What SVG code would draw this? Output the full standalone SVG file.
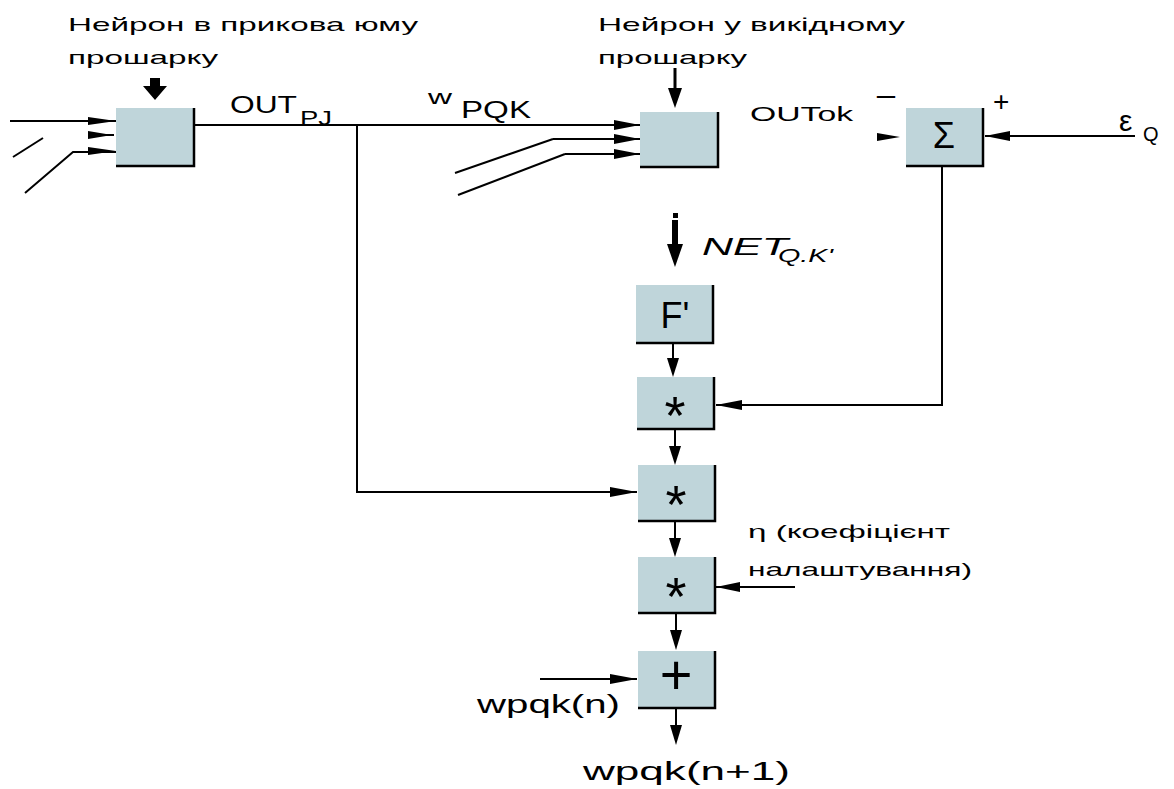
<svg xmlns="http://www.w3.org/2000/svg" width="1174" height="789" viewBox="0 0 1174 789">
<style>
.box{fill:#bfd5da;}
.edge{fill:none;stroke:#000;stroke-width:2.5;}
.ln{fill:none;stroke:#000;stroke-width:2;}
.t{font-family:"Liberation Sans",Arial,sans-serif;fill:#000;}
.lbl{font-size:19px;}
.sym{text-anchor:middle;}
</style>
<rect width="1174" height="789" fill="#fff"/>

<g id="connectors">
<line class="ln" x1="10" y1="121" x2="116" y2="121"/>
<line class="ln" x1="88" y1="135" x2="114" y2="135"/>
<polyline class="ln" points="13,157 43,138"/>
<polyline class="ln" points="25,193 73,152 116,152"/>
<path d="M88,117 L116,121 L88,125 z M88,131 L112,135 L88,139 z M88,147 L116,151 L88,155 z" fill="#000"/>
<path d="M150,78 h10 v8 h7 l-12,14 l-12,-14 h7 z" fill="#000"/>

<line class="ln" x1="194" y1="125" x2="640" y2="125"/>
<polyline class="ln" points="553,139 640,139"/>
<polyline class="ln" points="455,173 553,139"/>
<polyline class="ln" points="565,154 640,154"/>
<polyline class="ln" points="458,195 565,154"/>
<path d="M614,120 L640,125 L614,130 z M614,134 L640,139 L614,144 z M614,149 L640,154 L614,159 z" fill="#000"/>
<line x1="675" y1="68" x2="675" y2="92" stroke="#000" stroke-width="3"/>
<path d="M668,88 L682,88 L675,108 z" fill="#000"/>

<polyline class="ln" points="357,125 357,492 637,492"/>
<path d="M610,487 L637,492 L610,497 z" fill="#000"/>

<path d="M877,133 L900,137 L877,141 z" fill="#000"/>
<line class="ln" x1="985" y1="136" x2="1135" y2="136"/>
<path d="M985,136 L1010,131 L1010,141 z" fill="#000"/>

<polyline class="ln" points="942,166 942,405 716,405"/>
<path d="M716,405 L742,400 L742,410 z" fill="#000"/>

<rect x="673" y="213" width="5" height="5" fill="#000"/>
<line x1="675" y1="220" x2="675" y2="250" stroke="#000" stroke-width="6"/>
<path d="M667,244 L683,244 L675,267 z" fill="#000"/>

<line class="ln" x1="673" y1="343" x2="673" y2="362"/>
<path d="M667,358 L679,358 L673,377 z" fill="#000"/>
<line class="ln" x1="675" y1="429" x2="675" y2="450"/>
<path d="M669,446 L681,446 L675,465 z" fill="#000"/>
<line class="ln" x1="675" y1="521" x2="675" y2="542"/>
<path d="M669,538 L681,538 L675,557 z" fill="#000"/>
<line class="ln" x1="795" y1="587" x2="716" y2="587"/>
<path d="M716,587 L740,582 L740,592 z" fill="#000"/>
<line class="ln" x1="676" y1="613" x2="676" y2="633"/>
<path d="M670,630 L682,630 L676,650 z" fill="#000"/>
<line class="ln" x1="540" y1="679" x2="637" y2="679"/>
<path d="M610,674 L637,679 L610,684 z" fill="#000"/>
<line class="ln" x1="676" y1="708" x2="676" y2="728"/>
<path d="M670,725 L682,725 L676,745 z" fill="#000"/>
</g>

<g id="hidden-neuron">
<rect class="box" x="116" y="108" width="78" height="58"/>
<polyline class="edge" points="194,108 194,166 116,166"/>
</g>

<g id="output-neuron">
<rect class="box" x="640" y="112" width="78" height="55"/>
<polyline class="edge" points="718,112 718,167 640,167"/>
</g>

<g id="sum">
<rect class="box" x="906" y="108" width="77" height="58"/>
<polyline class="edge" points="983,108 983,166 906,166"/>
<text class="t sym" x="944" y="148" font-size="36">Σ</text>
</g>

<g id="fprime">
<rect class="box" x="636" y="285" width="77" height="58"/>
<polyline class="edge" points="713,285 713,343 636,343"/>
<text class="t sym" x="675" y="328" font-size="36">F'</text>
</g>

<g id="mul1">
<rect class="box" x="637" y="377" width="77" height="52"/>
<polyline class="edge" points="714,377 714,429 637,429"/>
<text class="t sym" x="675" y="434" font-size="54">*</text>
</g>

<g id="mul2">
<rect class="box" x="638" y="465" width="77" height="56"/>
<polyline class="edge" points="715,465 715,521 638,521"/>
<text class="t sym" x="676" y="523" font-size="54">*</text>
</g>

<g id="mul3">
<rect class="box" x="638" y="557" width="77" height="56"/>
<polyline class="edge" points="715,557 715,613 638,613"/>
<text class="t sym" x="676" y="615" font-size="54">*</text>
</g>

<g id="add">
<rect class="box" x="638" y="651" width="77" height="57"/>
<polyline class="edge" points="715,651 715,708 638,708"/>
<text class="t sym" x="676" y="694" font-size="56">+</text>
</g>

<g id="labels">
<text class="t lbl" x="68" y="31" textLength="350" lengthAdjust="spacingAndGlyphs">Нейрон в прикова юму</text>
<text class="t lbl" x="68" y="64" textLength="150" lengthAdjust="spacingAndGlyphs">прошарку</text>
<text class="t lbl" x="598" y="31" textLength="307" lengthAdjust="spacingAndGlyphs">Нейрон у викідному</text>
<text class="t lbl" x="598" y="64" textLength="149" lengthAdjust="spacingAndGlyphs">прошарку</text>
<text class="t" x="230" y="113" font-size="24" textLength="67" lengthAdjust="spacingAndGlyphs">OUT</text>
<text class="t" x="300" y="125" font-size="20" textLength="32" lengthAdjust="spacingAndGlyphs">PJ</text>
<text class="t" x="428" y="104" font-size="20" textLength="24" lengthAdjust="spacingAndGlyphs">w</text>
<text class="t" x="461" y="118" font-size="24" textLength="70" lengthAdjust="spacingAndGlyphs">PQK</text>
<text class="t" x="750" y="121" font-size="20" textLength="103" lengthAdjust="spacingAndGlyphs">OUTok</text>
<text class="t" x="875" y="106" font-size="28" textLength="22" lengthAdjust="spacingAndGlyphs">−</text>
<text class="t" x="993" y="111" font-size="28">+</text>
<text class="t" x="1119" y="131" font-size="30">ε</text>
<text class="t" x="1143" y="141" font-size="20">Q</text>
<text class="t" x="702" y="255" font-size="24" font-style="italic" textLength="86" lengthAdjust="spacingAndGlyphs">NET</text>
<text class="t" x="778" y="262" font-size="18" font-style="italic" textLength="55" lengthAdjust="spacingAndGlyphs">Q.K'</text>
<text class="t lbl" x="748" y="538" textLength="202" lengthAdjust="spacingAndGlyphs">η (коефіцієнт</text>
<text class="t lbl" x="748" y="576" textLength="224" lengthAdjust="spacingAndGlyphs">налаштування)</text>
<text class="t" x="477" y="713" font-size="25" textLength="143" lengthAdjust="spacingAndGlyphs">wpqk(n)</text>
<text class="t" x="583" y="780" font-size="26" textLength="207" lengthAdjust="spacingAndGlyphs">wpqk(n+1)</text>
</g>
</svg>
